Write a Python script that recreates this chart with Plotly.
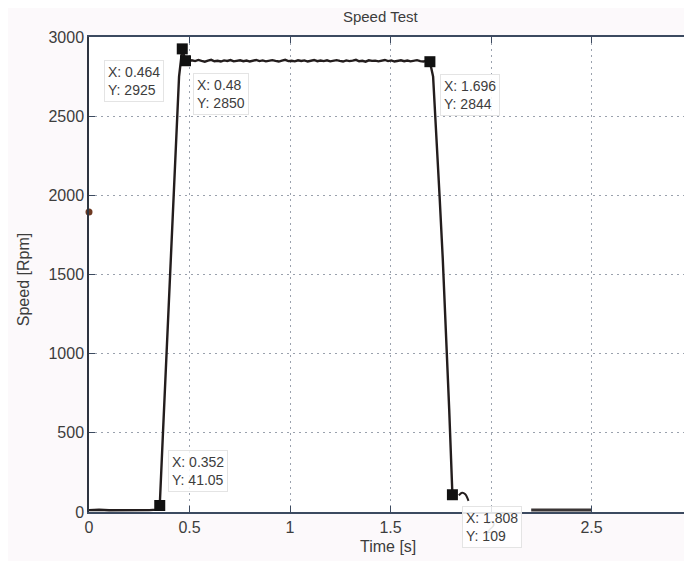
import numpy as np
import plotly.graph_objects as go

# ---- data ----
t_idle = [0.0, 0.05, 0.1, 0.2, 0.3, 0.336]
v_idle = [12, 14, 11, 10, 12, 15]

t_rise = [0.352, 0.368, 0.384, 0.4, 0.416, 0.432, 0.448, 0.464]
v_rise = [41.05, 500, 960, 1420, 1880, 2340, 2750, 2925]

plateau_vals = [2850, 2846, 2853, 2848, 2855, 2849, 2844, 2851, 2856, 2847,
                2850, 2845, 2852, 2849, 2854, 2846, 2850, 2853, 2847, 2851,
                2845, 2849, 2855, 2848, 2852, 2846, 2850, 2854, 2849, 2845,
                2851, 2856, 2848, 2850, 2846, 2853, 2849, 2852, 2845, 2850,
                2855, 2847, 2851, 2848, 2853, 2846, 2850, 2854, 2849, 2845,
                2852, 2848, 2851, 2856, 2847, 2850, 2844, 2853, 2849, 2851,
                2846, 2850, 2855, 2848, 2852, 2845, 2849, 2853, 2847, 2851,
                2846, 2850, 2854, 2848, 2845, 2849, 2844]
t_plateau = list(np.linspace(0.48, 1.696, len(plateau_vals)))

t_fall = [1.712, 1.728, 1.744, 1.76, 1.776, 1.792, 1.808]
v_fall = [2750, 2400, 2000, 1600, 1150, 650, 109]

t_hook = [1.84, 1.856, 1.872, 1.888]
v_hook = [105, 122, 112, 70]

t_end = [2.2, 2.3, 2.4, 2.5]
v_end = [12, 12, 11, 13]

tip_x = [0.352, 0.464, 0.48, 1.696, 1.808]
tip_y = [41.05, 2925, 2850, 2844, 109]
tip_labels = ["X: 0.352<br>Y: 41.05", "X: 0.464<br>Y: 2925", "X: 0.48<br>Y: 2850",
              "X: 1.696<br>Y: 2844", "X: 1.808<br>Y: 109"]
tip_label_x = [0.393, 0.075, 0.517, 1.746, 1.856]
tip_label_y = [259, 2722, 2640, 2634, -95]

x_ticks = [0, 0.5, 1, 1.5, 2, 2.5, 3]
x_tick_text = ["0", "0.5", "1", "1.5", "2", "2.5", "3"]
y_ticks = [0, 500, 1000, 1500, 2000, 2500, 3000]
Y_MAX = 3000

speck_x = [0.0]
speck_y = [1895]

# ---- figure ----
main_t = t_idle + t_rise + t_plateau + t_fall
main_v = v_idle + v_rise + plateau_vals + v_fall

FONT = "Liberation Sans, Arial"
txt_col = "#3d3d3d"
axis_col = "#3c4a60"
line_col = "#231d1d"

fig = go.Figure()
fig.add_trace(go.Scatter(x=main_t, y=main_v, mode="lines",
                         line=dict(color=line_col, width=2.4), showlegend=False))
fig.add_trace(go.Scatter(x=t_hook, y=v_hook, mode="lines",
                         line=dict(color=line_col, width=2, shape="spline"), showlegend=False))
fig.add_trace(go.Scatter(x=t_end, y=v_end, mode="lines",
                         line=dict(color="#3a3535", width=3), showlegend=False))
fig.add_trace(go.Scatter(x=tip_x, y=tip_y, mode="markers",
                         marker=dict(symbol="square", size=11, color="#111111"),
                         showlegend=False, cliponaxis=False))
fig.add_trace(go.Scatter(x=speck_x, y=speck_y, mode="markers",
                         marker=dict(symbol="circle", size=7, color="#6e3a22"),
                         showlegend=False, cliponaxis=False))
# invisible trace to carry the top (mirror) axis
fig.add_trace(go.Scatter(x=[0, 3], y=[0, 0], xaxis="x2", mode="lines",
                         line=dict(width=0), hoverinfo="skip", showlegend=False))

for lx, ly, txt in zip(tip_label_x, tip_label_y, tip_labels):
    fig.add_annotation(x=lx, y=ly / Y_MAX, xref="x", yref="paper", text=txt,
                       showarrow=False, xanchor="left", yanchor="middle", align="left",
                       font=dict(family=FONT, size=14, color=txt_col),
                       bgcolor="rgba(255,255,255,0.85)", bordercolor="#e4e4e4",
                       borderwidth=1, borderpad=3)

# axis titles
fig.add_annotation(x=-0.1095, y=0.49, xref="paper", yref="paper", text="Speed [Rpm]",
                   textangle=-90, showarrow=False, xanchor="center", yanchor="middle",
                   font=dict(family=FONT, size=16, color=txt_col))
fig.add_annotation(x=0.496, y=-0.072, xref="paper", yref="paper", text="Time [s]",
                   showarrow=False, xanchor="center", yanchor="middle",
                   font=dict(family=FONT, size=16, color=txt_col))

tick_font = dict(family=FONT, size=16, color=txt_col)
grid = dict(showgrid=True, gridcolor="#9aa1ad", griddash="2px,4px", gridwidth=1)
# the page body has an 8px margin, so the figure is offset by (8, 8)
fig.update_layout(
    width=692, height=561,
    margin=dict(l=81, r=8, t=29, b=57),
    paper_bgcolor="#fcf9fb",
    plot_bgcolor="#ffffff",
    title=dict(text="Speed Test", x=0.538, xanchor="center", y=1 - 9 / 561, yanchor="middle",
               font=dict(family=FONT, size=15, color=txt_col)),
    xaxis=dict(range=[0, 3], tickvals=x_ticks, ticktext=x_tick_text, automargin=False,
               showline=True, linecolor=axis_col, linewidth=1.5, mirror=False,
               ticks="inside", ticklen=6, tickcolor=axis_col,
               tickfont=tick_font, zeroline=False, **grid),
    xaxis2=dict(range=[0, 3], tickvals=x_ticks, overlaying="x", side="top",
                anchor="y", automargin=False, showticklabels=False, showgrid=False,
                showline=True, linecolor=axis_col, linewidth=1.5,
                ticks="inside", ticklen=6, tickcolor=axis_col, zeroline=False),
    yaxis=dict(range=[0, Y_MAX], tickvals=y_ticks, automargin=False,
               showline=True, linecolor="#2e3440", linewidth=1.5, mirror=False,
               ticks="inside", ticklen=6, tickcolor=axis_col,
               tickfont=tick_font, zeroline=False, **grid),
)

fig.write_html("out.html")
